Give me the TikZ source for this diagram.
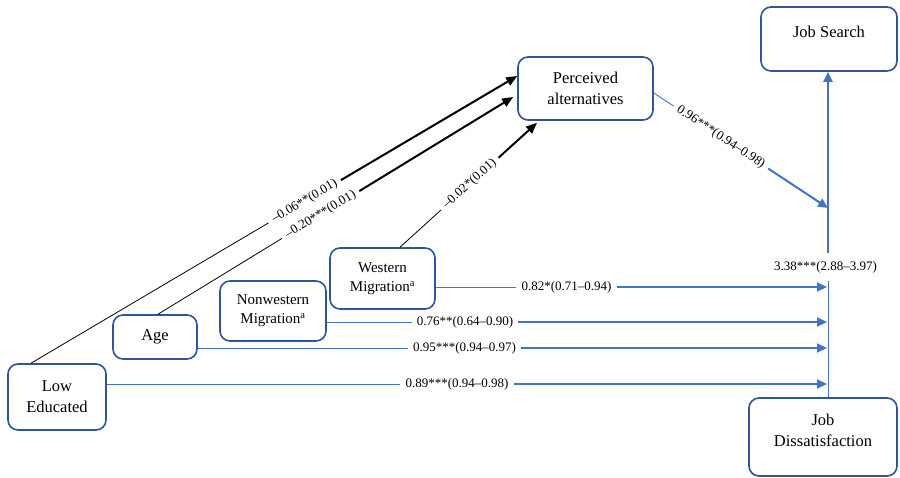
\documentclass[tikz,border=0pt]{standalone}
\usepackage{fontspec}
\setmainfont{Liberation Serif}
\usetikzlibrary{arrows.meta,calc}
\definecolor{boxblue}{HTML}{2F5597}
\definecolor{linkblue}{HTML}{4472C4}
\begin{document}
\begin{tikzpicture}[x=1pt,y=-1pt,
  box/.style={draw=boxblue, line width=1.6pt, rounded corners=10pt, fill=white, inner sep=0pt, align=center},
  bigtext/.style={font=\fontsize{16.5}{21}\selectfont, align=center, inner sep=0pt},
  midtext/.style={font=\fontsize{15}{19}\selectfont, align=center, inner sep=0pt},
  coef/.style={font=\fontsize{13}{15}\selectfont, inner xsep=5pt, inner ysep=2pt},
  bluethin/.style={draw=linkblue, line width=0.9pt},
  bluethick/.style={draw=linkblue, line width=2pt, -{Triangle[length=10pt,width=9pt]}},
  blackthin/.style={draw=black, line width=0.8pt},
  blackthick/.style={draw=black, line width=2pt, -{Triangle[length=11pt,width=9pt]}},
]
\useasboundingbox (0,0) rectangle (900,477);

% boxes
\node[box, minimum width=136pt, minimum height=64pt] (jobsearch) at (829,39) {};
\node[bigtext] (jobsearch-t) at (829,32) {Job Search};
\node[box, bigtext, minimum width=135pt, minimum height=63pt] (perceived) at (585.5,88.5) {Perceived\\alternatives};
\node[box, midtext, minimum width=105pt, minimum height=61pt] (western) at (382.5,278.5) {Western\\Migration\textsuperscript{a}};
\node[box, midtext, minimum width=106pt, minimum height=60pt] (nonwestern) at (273,311) {Nonwestern\\Migration\textsuperscript{a}};
\node[box, bigtext, minimum width=84pt, minimum height=44pt] (age) at (155,337) {Age};
\node[box, bigtext, minimum width=98pt, minimum height=66pt] (lowed) at (57,397) {Low\\Educated};
\node[box, minimum width=148pt, minimum height=78pt] (jobdis) at (823,437) {};
\node[bigtext] (jobdis-t) at (823,430.5) {Job\\Dissatisfaction};

% paths into perceived alternatives
\coordinate (le-s) at ([xshift=-26pt]lowed.north);
\coordinate (le-e) at ([yshift=12.5pt]perceived.west);
\path (le-s) -- node[coef, sloped, pos=0.563] (c-le) {–0.06**(0.01)} (le-e);
\draw[blackthin] (le-s) -- (c-le);
\draw[blackthick] (c-le) -- (le-e);

\coordinate (ag-s) at ([xshift=3pt]age.north);
\coordinate (ag-e) at ([yshift=-8.5pt,xshift=-4pt]perceived.west);
\path (ag-s) -- node[coef, sloped, pos=0.458] (c-ag) {–0.20***(0.01)} (ag-e);
\draw[blackthin] (ag-s) -- (c-ag);
\draw[blackthick] (c-ag) -- (ag-e);

\coordinate (we-s) at ([xshift=17.5pt]western.north);
\coordinate (we-e) at ([xshift=-48.5pt,yshift=-2pt]perceived.south);
\path (we-s) -- node[coef, sloped, pos=0.51] (c-we2) {–0.02*(0.01)} (we-e);
\draw[blackthin] (we-s) -- (c-we2);
\draw[blackthick] (c-we2) -- (we-e);

% trunk towards job search
\coordinate (t-pa) at (828,208);
\coordinate (trunk-hi) at (828,253);
\coordinate (trunk-lo) at (828,281);
\coordinate (pa-s) at ([yshift=-4.5pt]perceived.east);
\path (pa-s) -- node[coef, sloped, pos=0.385] (c-pa) {0.96***(0.94–0.98)} (t-pa);
\draw[bluethin] (pa-s) -- (c-pa);
\draw[bluethick] (c-pa) -- (t-pa);

\node[coef] (c-jd) at (825.5,267) {3.38***(2.88–3.97)};
\draw[bluethin] (trunk-lo) -- (trunk-lo |- jobdis.north);
\draw[bluethick] (trunk-hi) -- (trunk-hi |- jobsearch.south);

% direct paths into the trunk
\coordinate (t-we) at (827,287);
\coordinate (t-nw) at (827,322);
\coordinate (t-ag) at (827,348);
\coordinate (t-le) at (827,384);

\node[coef] (c-we) at (566.5,287) {0.82*(0.71–0.94)};
\draw[bluethin] (western.east |- c-we) -- (c-we);
\draw[bluethick] (c-we) -- (t-we);

\node[coef] (c-nw) at (465,322) {0.76**(0.64–0.90)};
\draw[bluethin] (nonwestern.east |- c-nw) -- (c-nw);
\draw[bluethick] (c-nw) -- (t-nw);

\node[coef] (c-ag2) at (464.5,348) {0.95***(0.94–0.97)};
\draw[bluethin] (age.east |- c-ag2) -- (c-ag2);
\draw[bluethick] (c-ag2) -- (t-ag);

\node[coef] (c-le2) at (457,384) {0.89***(0.94–0.98)};
\draw[bluethin] (lowed.east |- c-le2) -- (c-le2);
\draw[bluethick] (c-le2) -- (t-le);
\end{tikzpicture}
\end{document}
